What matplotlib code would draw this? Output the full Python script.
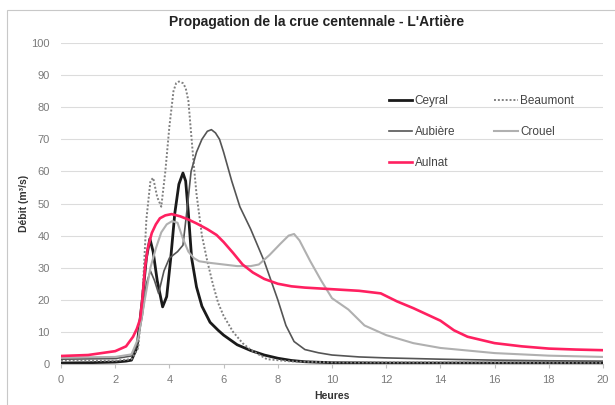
import matplotlib
matplotlib.use("Agg")
import matplotlib.pyplot as plt
from matplotlib.patches import Rectangle

plt.rcParams['font.family'] = ['Liberation Sans', 'DejaVu Sans']

# Débits (heures, m3/s)
t_ceyral = [0, 1, 2, 2.4, 2.6, 2.8, 3.0, 3.15, 3.28, 3.4, 3.55, 3.75, 3.9, 4.05, 4.2, 4.35, 4.5, 4.6, 4.7, 4.82, 5.0, 5.2, 5.5, 5.8, 6.0, 6.5, 7.0, 7.5, 8.0, 8.5, 9.0, 10, 12, 14, 16, 18, 20]
q_ceyral = [0.3, 0.4, 0.6, 0.9, 1.2, 5, 20, 33, 39, 35, 26, 17.8, 21, 33, 47, 56, 59.5, 57, 47, 33, 24, 18, 13, 10.5, 9, 6, 4.2, 2.8, 1.8, 1.1, 0.7, 0.4, 0.3, 0.3, 0.3, 0.3, 0.3]

t_beaumont = [0, 2, 2.6, 2.85, 3.0, 3.15, 3.3, 3.4, 3.55, 3.7, 3.85, 4.0, 4.15, 4.25, 4.35, 4.5, 4.6, 4.7, 4.8, 4.9, 5.0, 5.2, 5.4, 5.6, 5.8, 6.0, 6.35, 6.7, 7.0, 7.6, 8.5, 10, 20]
q_beaumont = [1.0, 1.0, 1.5, 5, 20, 45, 57, 58, 52, 49, 60, 74, 85, 87.5, 88, 87.5, 86, 82, 72, 62, 53, 40, 32, 25, 19, 15, 10, 6.5, 4.4, 1.5, 0.8, 0.5, 0.4]

t_aubiere = [0, 2, 2.6, 2.8, 3.0, 3.15, 3.3, 3.45, 3.6, 3.8, 4.0, 4.3, 4.5, 4.65, 4.8, 5.0, 5.2, 5.4, 5.55, 5.7, 5.85, 6.0, 6.3, 6.6, 7.0, 7.5, 8.0, 8.3, 8.6, 9.0, 9.5, 10, 11, 12, 14, 16, 18, 20]
q_aubiere = [1.5, 1.7, 2.5, 6, 15, 25, 29, 26, 22, 29, 33, 35, 37, 48, 60, 66, 70, 72.5, 73, 72, 70, 66, 57, 49, 42, 32, 20, 12, 7, 4.5, 3.5, 2.8, 2.2, 1.9, 1.5, 1.2, 1.0, 0.9]

t_crouel = [0, 2, 2.6, 2.85, 3.05, 3.3, 3.5, 3.7, 3.9, 4.1, 4.3, 4.5, 4.7, 4.9, 5.1, 5.5, 6.0, 6.5, 7.0, 7.3, 7.7, 8.1, 8.4, 8.6, 8.8, 9.2, 9.6, 10.0, 10.6, 11.2, 12, 13, 14, 16, 18, 20]
q_crouel = [2.0, 2.2, 3, 8, 18, 30, 36, 41, 43.5, 44.5, 44, 39, 35, 33, 32, 31.5, 31, 30.5, 30.5, 31, 34, 37.5, 40, 40.5, 38.5, 32, 26, 20.5, 17, 12, 9, 6.5, 5, 3.4, 2.6, 2.2]

t_aulnat = [0, 1, 2, 2.4, 2.66, 2.8, 2.92, 3.0, 3.1, 3.2, 3.35, 3.5, 3.65, 3.85, 4.08, 4.4, 4.7, 5.0, 5.4, 5.74, 6.0, 6.35, 6.7, 7.08, 7.5, 8.0, 8.5, 9.0, 10, 11, 11.8, 12.4, 13, 14, 14.5, 15, 16, 17, 18, 19, 20]
q_aulnat = [2.5, 2.8, 4, 5.5, 8.5, 11, 14, 20, 30, 36, 40.8, 43.5, 45.4, 46.3, 46.7, 46, 45, 43.8, 42, 40.2, 38, 34.6, 31, 28.5, 26.5, 25, 24.2, 23.8, 23.3, 22.8, 22, 19.5, 17.4, 13.5, 10.5, 8.5, 6.5, 5.5, 4.8, 4.5, 4.3]

fig = plt.figure(figsize=(6.15, 4.05), dpi=100)
fig.patches.append(Rectangle((7/615, -0.1), 1.2, 0.1 + 395/405, transform=fig.transFigure,
                             fill=False, edgecolor='#c8c8c8', linewidth=0.8))
ax = fig.add_axes([61/615, 41/405, 542/615, 321/405])

l_ceyral, = ax.plot(t_ceyral, q_ceyral, color='#1a1a1a', lw=2.0, label='Ceyral')
l_beaumont, = ax.plot(t_beaumont, q_beaumont, color='#808080', lw=1.4, ls=(0, (1, 1)), label='Beaumont')
l_aubiere, = ax.plot(t_aubiere, q_aubiere, color='#555555', lw=1.2, label='Aubière')
l_crouel, = ax.plot(t_crouel, q_crouel, color='#b0b0b0', lw=1.5, label='Crouel')
l_aulnat, = ax.plot(t_aulnat, q_aulnat, color='#ff2060', lw=1.9, label='Aulnat')

ax.set_xlim(0, 20)
ax.set_ylim(0, 100)
ax.set_xticks(range(0, 21, 2))
ax.set_yticks(range(0, 101, 10))
ax.grid(axis='y', color='#dcdcdc', lw=0.8)
ax.set_axisbelow(True)
for s in ['top', 'right', 'left']:
    ax.spines[s].set_visible(False)
ax.spines['bottom'].set_color('#c0c0c0')
ax.tick_params(axis='both', colors='#c0c0c0', labelcolor='#7a7a7a', labelsize=8)
ax.tick_params(axis='y', length=0, pad=8)
ax.tick_params(axis='x', length=3, pad=5)

ax.set_xlabel('Heures', fontsize=7.5, fontweight='bold', color='#333333', labelpad=4)
ax.set_ylabel('Débit (m³/s)', fontsize=7.5, fontweight='bold', color='#333333', labelpad=2)
fig.text(0.5 + 9/615, 1 - 22/405, "Propagation de la crue centennale - L'Artière",
         ha='center', va='center', fontsize=10, fontweight='bold', color='#222222')

ax.legend([l_ceyral, l_aubiere, l_aulnat, l_beaumont, l_crouel],
          ['Ceyral', 'Aubière', 'Aulnat', 'Beaumont', 'Crouel'],
          ncol=2, loc='upper left', bbox_to_anchor=(0.585, 0.87), frameon=False,
          fontsize=8.5, labelspacing=1.6, handlelength=2.0, handletextpad=0.2,
          columnspacing=3.3, labelcolor='#444444')

plt.savefig('out.png', dpi=100)
plt.close()
